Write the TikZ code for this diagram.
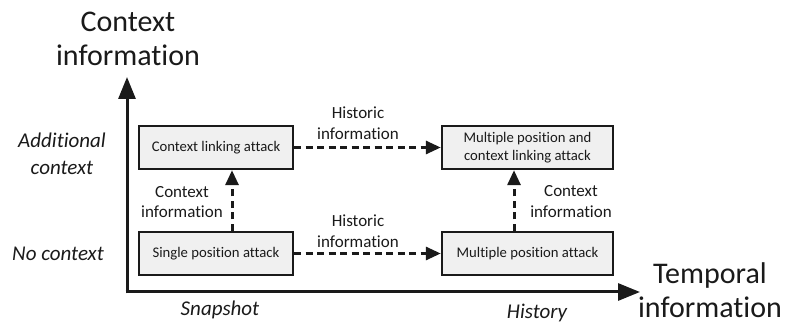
\documentclass[tikz,border=0pt]{standalone}
\usepackage{fontspec}
\setmainfont{Carlito}[Ligatures=NoCommon]
\usetikzlibrary{arrows.meta}
\definecolor{boxfill}{HTML}{F0F0F0}
\definecolor{ink}{HTML}{1A1A1A}
\tikzset{
  attack/.style={draw=ink, line width=2.4pt, fill=boxfill, minimum height=43pt, inner sep=1pt, align=center, font=\fontsize{14.7}{18}\selectfont, text=ink},
  axisline/.style={draw=ink, line width=3pt, -{Triangle[length=22pt,width=17pt]}},
  flow/.style={draw=ink, line width=3pt, dash pattern=on 7pt off 4.5pt, -{Triangle[length=15pt,width=13pt]}, shorten >=0pt},
  lbl/.style={align=center, font=\fontsize{17}{20.5}\selectfont, text=ink},
  axlbl/.style={align=center, font=\fontsize{21}{27}\selectfont\itshape, text=ink},
  ttl/.style={align=center, font=\fontsize{30}{34}\selectfont, text=ink},
}
\begin{document}
\begin{tikzpicture}[x=1pt,y=1pt]
\useasboundingbox (0,0) rectangle (791,326);
% axes
\coordinate (O) at (127,34);
\coordinate (Ytip) at (127,249);
\coordinate (Xtip) at (640,34);
\draw[axisline] ([xshift=-1.5pt]O) -- (Xtip);
\draw[axisline] ([yshift=-1.5pt]O) -- (Ytip);
% boxes
\node[attack, minimum width=154pt] (cla) at (216,178.5) {Context linking attack};
\node[attack, minimum width=154pt] (spa) at (216,72.5) {Single position attack};
\node[attack, minimum width=171pt] (mpcla) at (527.5,178.5) {Multiple position and\\context linking attack};
\node[attack, minimum width=171pt] (mpa) at (527.5,72.5) {Multiple position attack};
% flows
\draw[flow] (cla.east) -- (mpcla.west);
\draw[flow] (spa.east) -- (mpa.west);
\draw[flow] ([xshift=16pt]spa.north) -- ([xshift=16pt]cla.south);
\draw[flow] ([xshift=-13.5pt]mpa.north) -- ([xshift=-13.5pt]mpcla.south);
% flow labels
\node[lbl] (h1) at (358,203) {Historic\\information};
\node[lbl] (h2) at (358,95) {Historic\\information};
\node[lbl] (c1) at (182,124) {Context\\information};
\node[lbl] (c2) at (571,124.5) {Context\\information};
% axis labels
\node[axlbl] (addc) at (62,172) {Additional\\context};
\node[axlbl] (noc) at (58,72) {No context};
\node[axlbl] (snap) at (220,16) {Snapshot};
\node[axlbl] (hist) at (537,13) {History};
% axis titles
\node[ttl] (ytitle) at (128,287) {Context\\information};
\node[ttl] (xtitle) at (710,35.5) {Temporal\\information};
\end{tikzpicture}
\end{document}
